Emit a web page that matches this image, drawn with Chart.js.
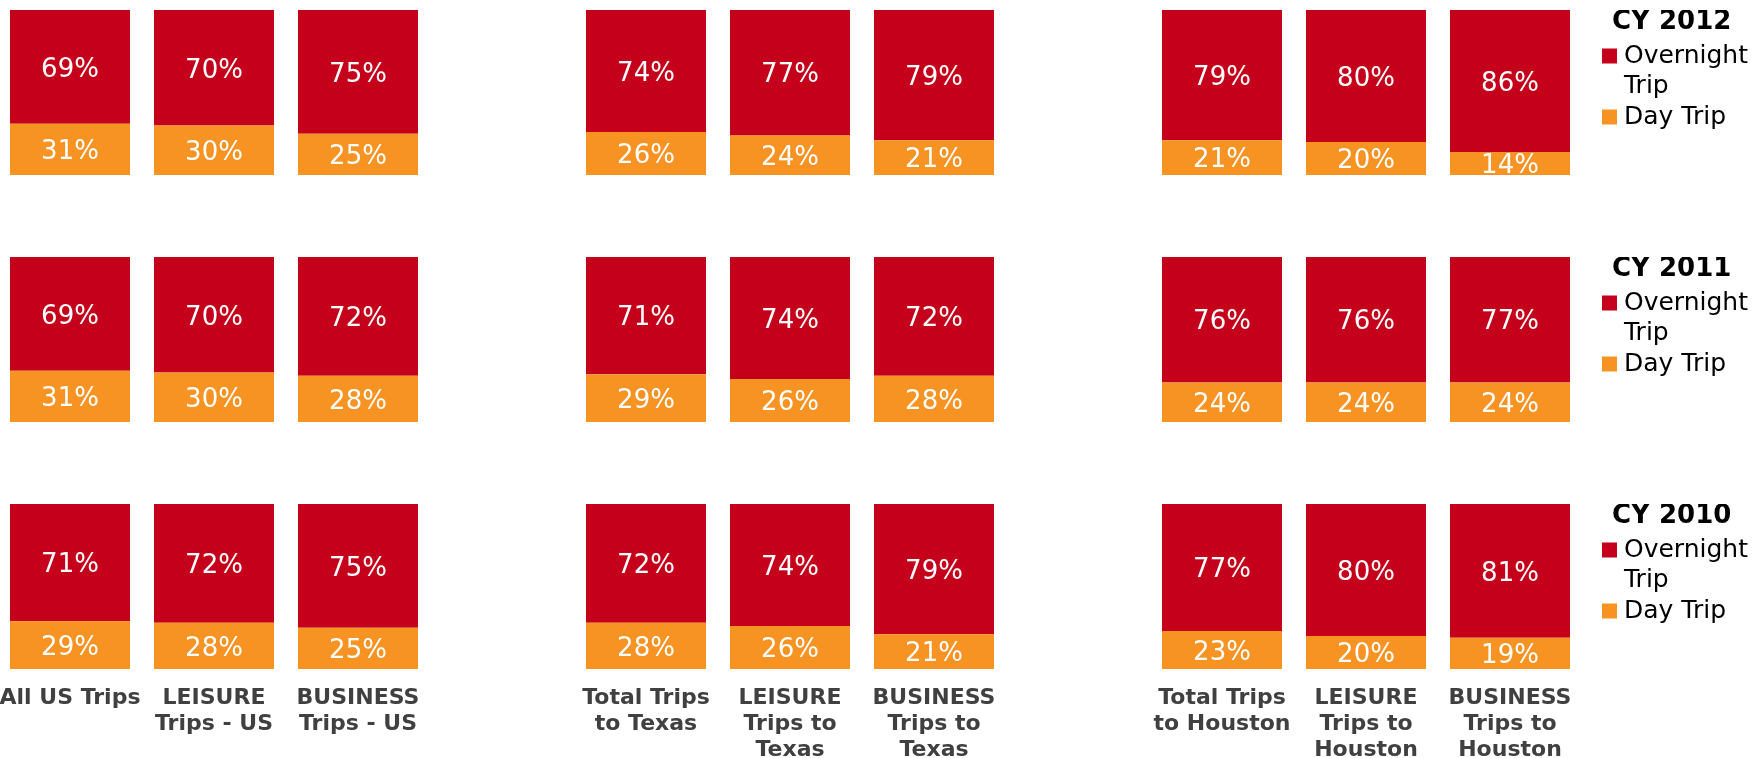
<!DOCTYPE html>
<html>
<head>
<meta charset="utf-8">
<script src="https://cdn.jsdelivr.net/npm/chart.js@4.4.0/dist/chart.umd.min.js"></script>
<style>
  body { margin: 0; background: #fff; overflow: hidden; }
  #wrap { position: relative; width: 1758px; height: 758px; }
  canvas { position: absolute; left: -2px; }
</style>
</head>
<body>
<div id="wrap">
  <canvas id="row2012" width="1760" height="165" style="top:10px"></canvas>
  <canvas id="row2011" width="1760" height="165" style="top:257px"></canvas>
  <canvas id="row2010" width="1760" height="254" style="top:504px"></canvas>
</div>
<script>
// 11 slots: 3 groups of 3 bars, an empty slot between groups
const categories = [
  'All US Trips', ['LEISURE', 'Trips - US'], ['BUSINESS', 'Trips - US'], '',
  ['Total Trips', 'to Texas'], ['LEISURE', 'Trips to', 'Texas'], ['BUSINESS', 'Trips to', 'Texas'], '',
  ['Total Trips', 'to Houston'], ['LEISURE', 'Trips to', 'Houston'], ['BUSINESS', 'Trips to', 'Houston']
];

const overnight2012 = [69, 70, 75, null, 74, 77, 79, null, 79, 80, 86];
const dayTrip2012   = [31, 30, 25, null, 26, 24, 21, null, 21, 20, 14];
const overnight2011 = [69, 70, 72, null, 71, 74, 72, null, 76, 76, 77];
const dayTrip2011   = [31, 30, 28, null, 29, 26, 28, null, 24, 24, 24];
const overnight2010 = [71, 72, 75, null, 72, 74, 79, null, 77, 80, 81];
const dayTrip2010   = [29, 28, 25, null, 28, 26, 21, null, 23, 20, 19];

const legendLines = [['Overnight', 'Trip'], ['Day Trip']];
const RED = '#C4001A';
const ORANGE = '#F69322';
const FONT = '"DejaVu Sans", Verdana, sans-serif';

// white % labels centred in each segment
const segmentLabels = {
  id: 'segmentLabels',
  afterDatasetsDraw(chart) {
    const ctx = chart.ctx;
    ctx.save();
    ctx.font = '26px ' + FONT;
    ctx.fillStyle = '#fff';
    ctx.textAlign = 'center';
    ctx.textBaseline = 'middle';
    chart.data.datasets.forEach((ds, i) => {
      chart.getDatasetMeta(i).data.forEach((bar, j) => {
        const v = ds.data[j];
        if (v == null) return;
        const p = bar.getProps(['x', 'y', 'base'], true);
        ctx.fillText(v + '%', p.x, (p.y + p.base) / 2 + 3);
      });
    });
    ctx.restore();
  }
};

// year legend on the right of each row
const yearLegend = {
  id: 'yearLegend',
  afterDraw(chart, args, opts) {
    const ctx = chart.ctx;
    const left = chart.chartArea.right;
    const top = chart.chartArea.top;
    ctx.save();
    ctx.textAlign = 'left';
    ctx.textBaseline = 'middle';
    ctx.fillStyle = '#000';
    ctx.font = 'bold 26px ' + FONT;
    ctx.fillText(opts.title, left + 30, top + 12);
    ctx.font = '25px ' + FONT;
    const colors = [RED, ORANGE];
    let y = top + 46;
    legendLines.forEach((lines, k) => {
      ctx.fillStyle = colors[k];
      ctx.fillRect(left + 20, y - 7.5, 15, 15);
      ctx.fillStyle = '#000';
      lines.forEach(t => {
        ctx.fillText(t, left + 42, y);
        y += 30.5;
      });
    });
    ctx.restore();
  }
};

function makeRow(id, year, overnight, dayTrip, showLabels) {
  const x = {
    stacked: true,
    display: showLabels,
    grid: { display: false, drawTicks: false },
    border: { display: false },
    ticks: {
      autoSkip: false, maxRotation: 0, minRotation: 0, padding: 16,
      color: '#404040',
      font: { family: FONT, size: 22, weight: 'bold', lineHeight: 1.18 }
    }
  };
  if (showLabels) {
    x.afterFit = scale => {
      scale.height = 89;
      scale.paddingLeft = 0;
      scale.paddingRight = 0;
    };
  }
  new Chart(document.getElementById(id), {
    type: 'bar',
    data: {
      labels: categories,
      datasets: [
        { label: 'Day Trip', data: dayTrip, backgroundColor: ORANGE },
        { label: 'Overnight Trip', data: overnight, backgroundColor: RED }
      ]
    },
    options: {
      responsive: false,
      animation: false,
      events: [],
      layout: { padding: { left: 0, right: 176, top: 0, bottom: 0 } },
      datasets: { bar: { categoryPercentage: 1, barPercentage: 120 / 144 } },
      scales: {
        x: x,
        y: { stacked: true, display: false, min: 0, max: 100 }
      },
      plugins: {
        legend: { display: false },
        tooltip: { enabled: false },
        yearLegend: { title: 'CY ' + year }
      }
    },
    plugins: [segmentLabels, yearLegend]
  });
}

makeRow('row2012', 2012, overnight2012, dayTrip2012, false);
makeRow('row2011', 2011, overnight2011, dayTrip2011, false);
makeRow('row2010', 2010, overnight2010, dayTrip2010, true);
</script>
</body>
</html>
